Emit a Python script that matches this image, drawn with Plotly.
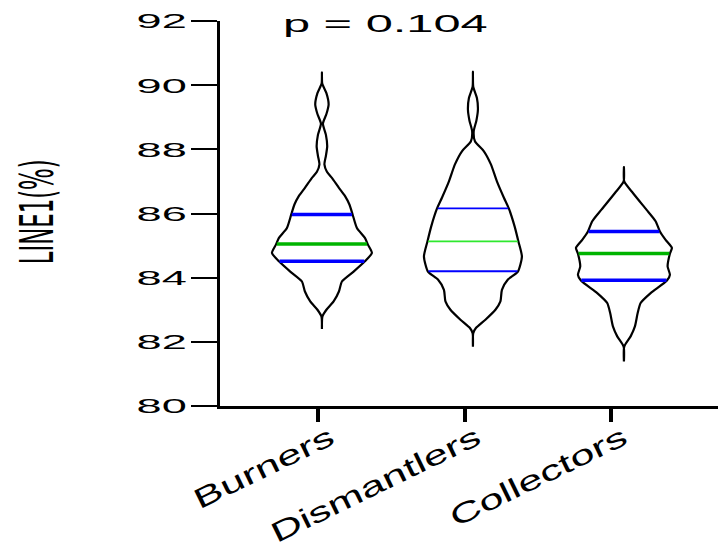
import numpy as np
import plotly.graph_objects as go

# ---------------- data ----------------
categories = ["Burners", "Dismantlers", "Collectors"]

# density profiles (value level -> relative half-width of the violin)
burners_levels = [90.40, 90.05, 89.75, 89.40, 89.10, 88.80, 88.45, 88.10, 87.80, 87.53,
                  87.30, 87.11, 86.80, 86.55, 86.28, 85.97, 85.55, 85.24, 85.03, 84.77,
                  84.51, 84.19, 83.88, 83.57, 83.26, 83.00, 82.79, 82.40]
burners_density = [0, 0.006, 0.09, 0.134, 0.09, 0.02, 0.08, 0.106, 0.08, 0.05,
                   0.10, 0.20, 0.34, 0.46, 0.55, 0.614, 0.70, 0.86, 0.92, 1.00,
                   0.86, 0.634, 0.40, 0.34, 0.234, 0.09, 0.01, 0]

dismantlers_levels = [90.42, 89.95, 89.60, 89.24, 88.90, 88.57, 88.25, 87.94, 87.53, 87.00,
                      86.49, 86.15, 85.60, 85.13, 84.66, 84.19, 83.94, 83.62, 83.26, 83.00,
                      82.69, 82.43, 82.27, 81.85]
dismantlers_density = [0, 0.006, 0.08, 0.10, 0.07, 0.016, 0.04, 0.22, 0.36, 0.48,
                       0.62, 0.72, 0.834, 0.91, 0.98, 0.90, 0.70, 0.58, 0.55, 0.45,
                       0.25, 0.06, 0.006, 0]

collectors_levels = [87.45, 87.00, 86.64, 86.12, 85.76, 85.44, 85.18, 84.93, 84.75, 84.35,
                     84.09, 83.91, 83.52, 83.21, 82.89, 82.48, 82.17, 81.85, 81.39]
collectors_density = [0, 0.006, 0.18, 0.45, 0.634, 0.72, 0.834, 0.96, 0.92, 0.874,
                      0.92, 0.86, 0.534, 0.334, 0.274, 0.22, 0.134, 0.006, 0]

# quartiles
q1_values = [84.51, 84.20, 83.92]
median_values = [85.05, 85.13, 84.75]
q3_values = [85.97, 86.16, 85.44]

y_tick_values = [80, 82, 84, 86, 88, 90, 92]
p_text = "p = 0.104"
y_title = "LINE1(%)"

# ---------------- styling ----------------
levels_all = [burners_levels, dismantlers_levels, collectors_levels]
density_all = [burners_density, dismantlers_density, collectors_density]
quart_width = [3.5, 1.8, 3.5]
median_color = ["#00b400", "#2ee82e", "#00b400"]
quart_color = "#0000ff"
VIOLIN_HALF = 0.331   # half-width (x units) at density 1

fig = go.Figure()

# category axis carrier (invisible) so the labelled x axis is drawn
fig.add_trace(go.Scatter(
    x=list(range(len(categories))), y=[80.0] * len(categories), mode="markers",
    marker=dict(opacity=0, size=1), xaxis="x", yaxis="y",
    showlegend=False, hoverinfo="skip"))

for i, cat in enumerate(categories):
    lv = np.array(levels_all[i], dtype=float)
    dn = np.array(density_all[i], dtype=float) * VIOLIN_HALF
    xs = np.concatenate([i + dn, (i - dn)[::-1]])
    ys = np.concatenate([lv, lv[::-1]])
    fig.add_trace(go.Scatter(
        x=xs, y=ys, mode="lines", fill="toself", fillcolor="white",
        line=dict(color="black", width=2.2, shape="spline", smoothing=0.6),
        xaxis="x2", yaxis="y", showlegend=False, hoverinfo="skip"))
    asc = np.argsort(lv)
    for q, col in [(q3_values[i], quart_color), (median_values[i], median_color[i]),
                   (q1_values[i], quart_color)]:
        w = np.interp(q, lv[asc], dn[asc]) - 0.004
        fig.add_trace(go.Scatter(
            x=[i - w, i + w], y=[q, q], mode="lines",
            line=dict(color=col, width=quart_width[i]),
            xaxis="x2", yaxis="y", showlegend=False, hoverinfo="skip"))

font_main = "Liberation Sans, Arial, Helvetica, sans-serif"

fig.update_layout(
    width=718, height=545,
    margin=dict(l=220, r=0, t=21, b=139),
    paper_bgcolor="white", plot_bgcolor="white",
    showlegend=False,
    xaxis=dict(
        range=[-0.669, 2.730], tickmode="array", tickvals=[0, 1, 2], ticktext=categories,
        showline=True, linecolor="black", linewidth=2.5,
        ticks="outside", ticklen=13, tickwidth=3.5, tickcolor="black",
        tickangle=-26, tickfont=dict(family=font_main, size=28, color="black"),
        ticklabelshift=12, ticklabelstandoff=-11,
        showgrid=False, zeroline=False, fixedrange=True),
    xaxis2=dict(
        range=[-0.675, 2.623], overlaying="x", anchor="y", visible=False,
        showgrid=False, zeroline=False),
    yaxis=dict(
        range=[80, 92], tickmode="array", tickvals=y_tick_values,
        showline=True, linecolor="black", linewidth=3,
        ticks="outside", ticklen=26, tickwidth=2, tickcolor="black",
        tickfont=dict(family=font_main, size=21, color="black"),
        showgrid=False, zeroline=False),
    annotations=[
        dict(text=p_text, xref="paper", yref="paper", x=0.3333, y=0.992,
             xanchor="center", yanchor="middle", showarrow=False,
             font=dict(family=font_main, size=23, color="black")),
        dict(text=y_title, xref="paper", yref="paper", x=-0.3675, y=0.504,
             xanchor="center", yanchor="middle", showarrow=False, textangle=-90,
             font=dict(family="Liberation Sans Narrow, DejaVu Sans Condensed, Arial Narrow, sans-serif",
                       size=46, color="black")),
    ],
)

post = """
document.body.style.margin = '0';
document.body.style.padding = '0';
document.body.style.overflow = 'hidden';
var gd = document.getElementById('{plot_id}');
function stretchSel(sel, f, absLen){
  gd.querySelectorAll(sel).forEach(function(t){
    t.removeAttribute('textLength');
    var w = t.getComputedTextLength();
    var L = absLen ? absLen : w * f;
    t.setAttribute('lengthAdjust', 'spacingAndGlyphs');
    t.setAttribute('textLength', L.toFixed(1));
  });
}
function applyAll(){
  stretchSel('.yaxislayer-above .ytick text', 2.15, 0);
  stretchSel('.xaxislayer-above .xtick text', 1.55, 0);
  stretchSel('.annotation[data-index="0"] text', 2.12, 0);
  stretchSel('.annotation[data-index="1"] text', 1, 105);
}
applyAll();
"""

fig.write_html("out.html", post_script=post, config={"displayModeBar": False})
